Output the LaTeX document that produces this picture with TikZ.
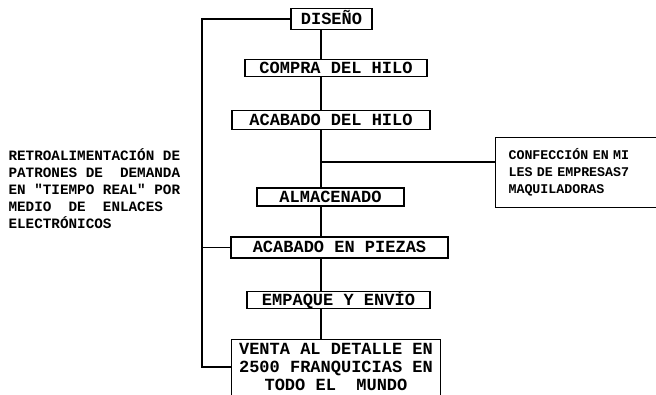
\documentclass[tikz,border=0pt]{standalone}
\usepackage{fontspec}
\setmonofont{Liberation Mono}
\begin{document}
\begin{tikzpicture}[x=1pt,y=-1pt,line width=1.1pt,
    caja/.style={draw, inner sep=0pt, font=\ttfamily\bfseries\fontsize{17}{18}\selectfont,
      text height=11pt, text depth=1pt},
    nota/.style={inner sep=0pt, align=left}]
  \useasboundingbox (0,0) rectangle (656,394);
  %ejes auxiliares
  \coordinate (eje) at (321,0);
  \coordinate (retro) at (202,0);
  \coordinate (rama) at (321,162);

  % cajas del proceso
  \node[caja, minimum width=81pt, minimum height=21pt] (diseno) at (331.5,19) {DISEÑO};
  \node[caja, minimum width=182pt, minimum height=17pt] (compra) at (336,68) {COMPRA DEL HILO};
  \node[caja, minimum width=198pt, minimum height=19pt] (hilo) at (331,120) {ACABADO DEL HILO};
  \node[caja, minimum width=147pt, minimum height=18pt] (almacen) at (330.5,197) {ALMACENADO};
  \node[caja, minimum width=217pt, minimum height=21pt] (piezas) at (339.5,247.5) {ACABADO EN PIEZAS};
  \node[caja, minimum width=183pt, minimum height=17pt] (empaque) at (338.5,300) {EMPAQUE Y ENVÍO};
  \node[caja, draw=none, minimum width=208pt, minimum height=54pt, align=center, text height=, text depth=,
        font=\ttfamily\bfseries\fontsize{17}{18}\selectfont] (venta) at (336,367)
        {VENTA AL DETALLE EN\\2500 FRANQUICIAS EN\\TODO EL~ MUNDO};
  % caja abierta abajo (cortada)
  \draw ([yshift=-12pt]venta.south west) |- (venta.north east) -- ([yshift=-12pt]venta.south east);

  % notas
  \node[draw, nota, anchor=north west, minimum height=70pt, inner xsep=13pt, text width=180pt,
        font=\ttfamily\bfseries\fontsize{13.3}{17}\selectfont] (confec) at (495,137)
        {CONFECCIÓN EN MI\\LES DE EMPRESAS7\\MAQUILADORAS};
  \node[nota, anchor=west, font=\ttfamily\bfseries\fontsize{14.3}{17}\selectfont] (retroalim) at (8,189)
        {RETROALIMENTACIÓN DE\\PATRONES DE~ DEMANDA\\EN "TIEMPO REAL" POR\\MEDIO~ DE~ ENLACES\\ELECTRÓNICOS};

  % tronco
  \foreach \a/\b in {diseno/compra,compra/hilo,hilo/almacen,almacen/piezas,piezas/empaque,empaque/venta}
    \draw (\a.south -| eje) -- (\b.north -| eje);
  % rama a maquiladoras
  \draw (rama) -- (rama -| confec.west);
  % retroalimentacion
  \draw (diseno.west) -- (diseno.west -| retro) -- (venta.west -| retro) -- (venta.west);
  \draw (piezas.west -| retro) -- (piezas.west);
\end{tikzpicture}
\end{document}
